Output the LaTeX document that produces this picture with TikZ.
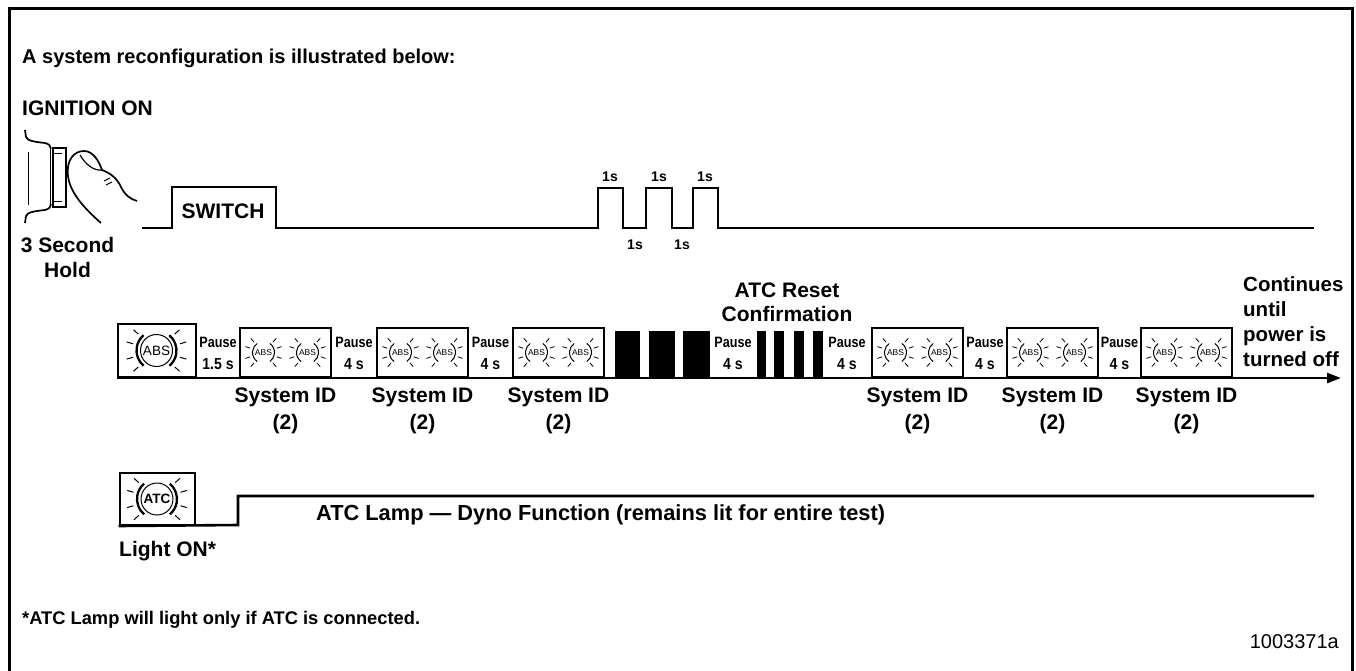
\documentclass[tikz,border=0pt]{standalone}
\usepackage{fontspec}
\setmainfont{Liberation Sans}
\usepackage{graphicx}
\usetikzlibrary{arrows.meta}
\newcommand{\fsz}[1]{\fontsize{#1}{#1}\selectfont}
\begin{document}
\begin{tikzpicture}[x=1pt,y=-1pt,
  wave/.style={line width=2.6pt, line join=miter},
  frame/.style={line width=3pt},
  box/.style={draw, line width=2pt, inner sep=0pt, minimum width=91pt, minimum height=49pt},
  bigbox/.style={draw, line width=2pt, inner sep=0pt, minimum width=78pt, minimum height=53pt},
  lbl/.style={font=\fsz{21}\bfseries, inner sep=0pt},
  small/.style={font=\fsz{14}\bfseries, inner sep=0pt},
  pauselbl/.style={font=\fsz{15}\bfseries, inner sep=0pt},
  block/.style={fill=black, draw=black, line width=1pt},
  pics/biglamp/.style={code={
    \draw[line width=1pt] (0,0) circle (16);
    \draw[line width=2.3pt] (-50:20) arc[start angle=-50, end angle=50, radius=20];
    \draw[line width=2.3pt] (130:20) arc[start angle=130, end angle=230, radius=20];
    \foreach \a in {16,42,-16,-42,164,138,196,222}
      \draw[line width=1pt] (\a:24.5) -- (\a:31);
    \node[font=\fsz{13.5}, inner sep=0pt] at (0,0) {#1};
  }},
  pics/smalllamp/.style={code={
    \draw[line width=1pt] (-55:11) arc[start angle=-55, end angle=55, radius=11];
    \draw[line width=1pt] (125:11) arc[start angle=125, end angle=235, radius=11];
    \foreach \a in {18,48,-18,-48,162,132,198,228}
      \draw[line width=0.8pt] (\a:14) -- (\a:19);
    \node[font=\fsz{8.5}, inner sep=0pt] at (0,0) {ABS};
  }}
]
\useasboundingbox (0,0) rectangle (1356,670);

% outer frame (open at the bottom)
\draw[frame] (9,672) -- (9,8) -- (1352,8) -- (1352,672);

% headings
\node[lbl, font=\fsz{20}\bfseries, anchor=base west] (head) at (22,63) {A system reconfiguration is illustrated below:};
\node[lbl, anchor=base west] (ign) at (22,115) {IGNITION ON};

% hand pressing the switch
\draw[line width=1.7pt] (25,130) -- (26,137) .. controls (27,141) and (36,142) .. (45,143) .. controls (49,144) and (51,146) .. (51,149);
\draw[line width=1.7pt] (25,223) -- (26,216) .. controls (27,212) and (36,211) .. (45,210) .. controls (49,209) and (51,207) .. (51,204);
\draw[line width=1pt] (28,152) -- (28,205);
\draw[line width=1pt] (50,148) -- (50,207);
\draw[line width=1.8pt] (53,148) rectangle (66,207);
\draw[line width=1pt] (53,153) -- (62,153) (53,201) -- (62,201);
\draw[line width=1.7pt] (101,223) .. controls (85,209) and (70,193) .. (68,176)
  .. controls (66,160) and (74,151) .. (84,151)
  .. controls (93,151) and (99,161) .. (102,170)
  .. controls (110,173) and (117,178) .. (121,187)
  .. controls (125,195) and (130,199) .. (137,201);
\draw[line width=1.2pt] (80,155) .. controls (86,165) and (94,171) .. (102,170);
\draw[line width=1pt] (104,181) -- (110,178) (106,185) -- (112,182);
\node[lbl, anchor=base] (hold1) at (67.5,252) {3 Second};
\node[lbl, anchor=base] (hold2) at (67.5,277) {Hold};

% switch waveform
\draw[wave] (142,228) -- (172,228) -- (172,187) -- (276,187) -- (276,228) -- (598,228)
  -- (598,188) -- (623,188) -- (623,228) -- (646,228) -- (646,188) -- (672,188)
  -- (672,228) -- (693,228) -- (693,188) -- (718,188) -- (718,228) -- (1314,228);
\node[lbl, anchor=base] (sw) at (223,218) {SWITCH};
\node[small, anchor=base] (h1) at (610,181) {1s};
\node[small, anchor=base] (h2) at (659,181) {1s};
\node[small, anchor=base] (h3) at (705,181) {1s};
\node[small, anchor=base] (l1) at (635,249) {1s};
\node[small, anchor=base] (l2) at (682,249) {1s};

% ABS lamp row
\node[bigbox] (abs) at (156.5,350.5) {};
\pic at (abs.center) {biglamp={ABS}};

\foreach \n/\cx in {id1/285.5, id2/422.5, id3/558.5, id4/917.5, id5/1052.5, id6/1186.5}{
  \node[box] (\n) at (\cx,352.5) {};
  \pic at ([xshift=-22pt]\n.center) {smalllamp};
  \pic at ([xshift=22pt]\n.center) {smalllamp};
  \node[lbl, anchor=base] (\n a) at (\cx,402) {System ID};
  \node[lbl, anchor=base] (\n b) at (\cx,429) {(2)};
}

\foreach \n/\cx/\t in {p1/218/1.5 s, p2/354/4 s, p3/490.5/4 s, p4/733/4 s, p5/847/4 s, p6/985/4 s, p7/1119.5/4 s}{
  \node[pauselbl, anchor=base] (\n a) at (\cx,347) {\scalebox{0.84}[1]{Pause}};
  \node[pauselbl, anchor=base] (\n b) at (\cx,369) {\scalebox{0.88}[1]{\fsz{16}\bfseries\t}};
}

% ATC reset blocks
\foreach \a/\b in {615/639, 649/674, 683/709, 757/765, 774/783, 794/803, 813/822}
  \draw[block] (\a,331) rectangle (\b,378);
\node[lbl, anchor=base] (atcr1) at (787,297) {ATC Reset};
\node[lbl, anchor=base] (atcr2) at (787,321) {Confirmation};

% time axis
\draw[wave, -{Triangle[length=14pt,width=10pt]}] (117,378) -- (1341,378);
\node[lbl, font=\fsz{20.5}\bfseries, anchor=base west] (cont1) at (1243,291) {Continues};
\node[lbl, font=\fsz{20.5}\bfseries, anchor=base west] (cont2) at (1243,316) {until};
\node[lbl, font=\fsz{20.5}\bfseries, anchor=base west] (cont3) at (1243,341) {power is};
\node[lbl, font=\fsz{20.5}\bfseries, anchor=base west] (cont4) at (1243,366) {turned off};

% ATC lamp row
\node[bigbox, minimum width=75pt, minimum height=52pt] (atc) at (157,499) {};
\pic at (atc.center) {biglamp={\bfseries ATC}};
\draw[wave] (atc.south west) -- (238,525) -- (238,496) -- (1314,496);
\node[lbl, font=\fsz{21.8}\bfseries, anchor=base west] (dyno) at (316,520) {ATC Lamp — Dyno Function (remains lit for entire test)};
\node[lbl, anchor=base west] (lon) at (119,556) {Light ON*};

% footnote and figure number
\node[lbl, font=\fsz{18.3}\bfseries, anchor=base west] (note) at (22,624) {*ATC Lamp will light only if ATC is connected.};
\node[font=\fsz{20}, inner sep=0pt, anchor=base east] (fig) at (1339,648) {1003371a};
\end{tikzpicture}
\end{document}
